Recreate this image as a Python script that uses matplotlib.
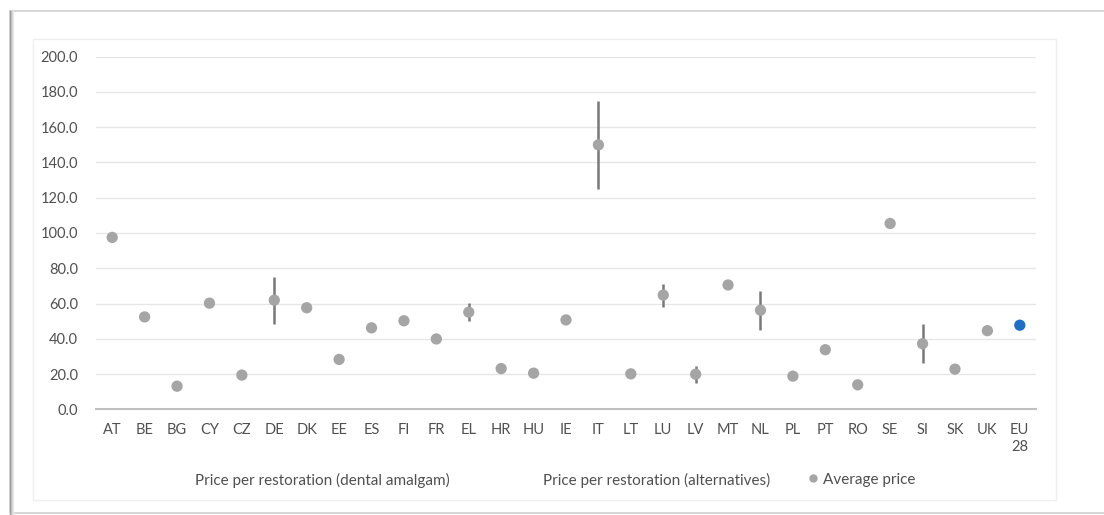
import numpy as np
import matplotlib
matplotlib.use("Agg")
import matplotlib.pyplot as plt
from matplotlib.patches import Rectangle
from matplotlib.lines import Line2D

# country codes and prices (EUR per restoration)
countries = ['AT', 'BE', 'BG', 'CY', 'CZ', 'DE', 'DK', 'EE', 'ES', 'FI', 'FR', 'EL',
             'HR', 'HU', 'IE', 'IT', 'LT', 'LU', 'LV', 'MT', 'NL', 'PL', 'PT', 'RO',
             'SE', 'SI', 'SK', 'UK', 'EU\n28']
average_price = [97.5, 52.4, 13.1, 60.2, 19.4, 61.9, 57.6, 28.3, 46.2, 50.2, 39.9, 55.1,
                 23.1, 20.5, 50.7, 150.0, 20.1, 64.8, 19.9, 70.5, 56.2, 18.8, 33.8, 13.9,
                 105.4, 37.2, 22.8, 44.6, 47.7]
nan = np.nan
price_amalgam = [nan, nan, nan, nan, nan, 48.6, 55.2, nan, nan, nan, nan, 50.3,
                 nan, nan, nan, 125.0, nan, 58.1, 15.2, nan, 45.2, nan, nan, nan,
                 nan, 26.2, nan, nan, nan]
price_alternatives = [nan, nan, nan, nan, nan, 75.0, 60.0, nan, nan, nan, nan, 60.2,
                      nan, nan, nan, 175.0, nan, 71.2, 24.7, nan, 67.3, nan, nan, nan,
                      nan, 48.2, nan, nan, nan]
legend_labels = ['Price per restoration (dental amalgam)',
                 'Price per restoration (alternatives)',
                 'Average price']

plt.rcParams['font.family'] = ['Lato', 'DejaVu Sans']
text_col = '#505050'
dot_col = '#A5A5A5'
bar_col = '#787878'
W, H = 1104, 515

fig = plt.figure(figsize=(W / 100, H / 100), dpi=100)

def px_rect(x0, y0, x1, y1, **kw):
    # rectangle given in picture pixels (top-left origin)
    r = Rectangle((x0 / W, 1 - y1 / H), (x1 - x0) / W, (y1 - y0) / H,
                  transform=fig.transFigure, fill=False, **kw)
    fig.add_artist(r)

# outer shadowed frame and inner chart border
for i, c in enumerate(['#9A9A9A', '#B8B8B8', '#D4D4D4', '#E8E8E8']):
    fig.add_artist(Line2D([(10 + i) / W] * 2, [1 - 11 / H, 1 - 514 / H],
                          transform=fig.transFigure, color=c, lw=1))
px_rect(10, 11, 1110, 513, edgecolor='#CFCFCF', lw=1.2)
px_rect(33, 39, 1056, 500, edgecolor='#EFEFEF', lw=1)

ax = fig.add_axes([96 / W, 1 - 409.3 / H, 940 / W, 352.6 / H])
x = np.arange(len(countries))

ax.vlines(x, price_amalgam, price_alternatives, color=bar_col, lw=1.8, zorder=2)
colors = [dot_col] * (len(countries) - 1) + ['#1F6FC5']
ax.scatter(x, average_price, s=66, c=colors, zorder=3, linewidths=0)

ax.set_xlim(-0.5, len(countries) - 0.5)
ax.set_ylim(0, 200)
ax.set_yticks(np.arange(0, 201, 20))
ax.set_yticklabels([f'{v:.1f}' for v in np.arange(0, 201, 20)])
ax.set_xticks(x)
ax.set_xticklabels(countries, linespacing=1.25, va='top')
ax.tick_params(axis='both', length=0, labelsize=10.5, labelcolor=text_col)
ax.tick_params(axis='y', pad=13)
ax.tick_params(axis='x', pad=10)
ax.grid(axis='y', color='#E6E6E6', lw=1)
ax.set_axisbelow(True)
for s in ['top', 'right', 'left']:
    ax.spines[s].set_visible(False)
ax.spines['bottom'].set_color('#BFBFBF')
ax.spines['bottom'].set_linewidth(1.5)

# legend row: the two price series have no visible key, the average has a dot
leg_y = 1 - 480 / H
for lx, lab in zip([195, 543, 823], legend_labels):
    fig.text(lx / W, leg_y, lab, ha='left', va='center', fontsize=11, color=text_col)
fig.add_artist(Line2D([813 / W], [leg_y + 2 / H], transform=fig.transFigure,
                      marker='o', ms=5, color=dot_col, linestyle='none'))

fig.savefig('out.png', dpi=100, facecolor='white')
